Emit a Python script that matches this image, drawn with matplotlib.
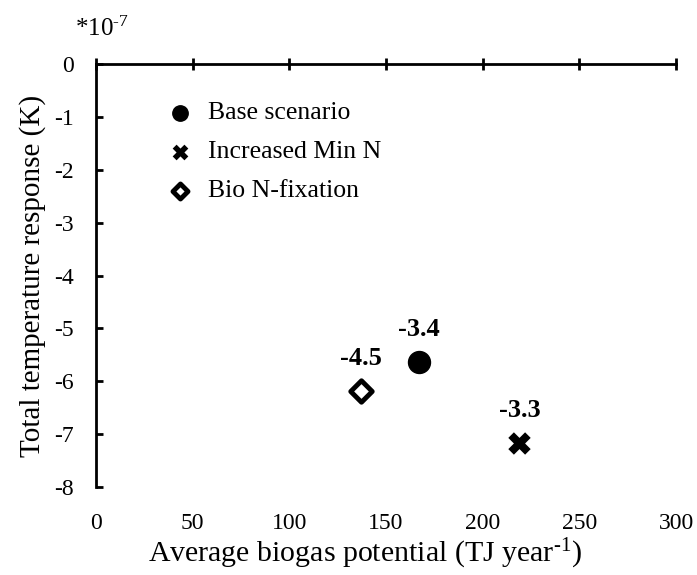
import matplotlib.pyplot as plt

# scenario results (temperature response in units of 1e-7 K)
scenarios = ["Base scenario", "Increased Min N", "Bio N-fixation"]
biogas = [167, 219, 137]
temp_response = [-5.63, -7.17, -6.19]
point_labels = ["-3.4", "-3.3", "-4.5"]

x_ticks = [0, 50, 100, 150, 200, 250, 300]
y_ticks = [0, -1, -2, -3, -4, -5, -6, -7, -8]

plt.rcParams['font.family'] = ['Liberation Serif', 'DejaVu Serif']
plt.rcParams['axes.unicode_minus'] = False
plt.rcParams['mathtext.fontset'] = 'custom'
plt.rcParams['mathtext.rm'] = 'Liberation Serif'
plt.rcParams['mathtext.it'] = 'Liberation Serif:italic'

fig = plt.figure(figsize=(6.97, 5.75), dpi=100)
ax = fig.add_axes([0.1377, 0.153, 0.8323, 0.7357])

styles = [
    dict(marker='o', s=250, color='black'),
    dict(marker='X', s=260, color='black', linewidths=0),
    dict(marker='D', s=120, facecolor='white', edgecolor='black', linewidths=3.5),
]
for name, x, y, lab, st in zip(scenarios, biogas, temp_response, point_labels, styles):
    ax.scatter(x, y, label=name, zorder=3, **st)
    ax.annotate(lab, (x, y), xytext=(0, 15), textcoords='offset points',
                ha='center', va='bottom', fontsize=19, fontweight='bold')

ax.set_xlim(0, 300)
ax.set_ylim(-8, 0)
ax.set_xticks(x_ticks)
ax.set_yticks(y_ticks)

ax.spines['bottom'].set_visible(False)
ax.spines['right'].set_visible(False)
ax.spines['top'].set_linewidth(2)
ax.spines['left'].set_linewidth(2)

ax.tick_params(axis='x', top=True, bottom=False, labeltop=False, labelbottom=True,
               direction='inout', length=9, width=2, labelsize=17, pad=14)
ax.tick_params(axis='y', direction='in', length=5, width=2, labelsize=17, pad=16)

ax.set_xlabel("Average biogas potential (TJ year$^{\\text{-1}}$)", fontsize=21.5)
ax.xaxis.set_label_coords(0.464, -0.118)
ax.set_ylabel("Total temperature response (K)", fontsize=21, labelpad=6)

ax.text(-0.036, 1.055, "*10$^{\\text{-7}}$", transform=ax.transAxes, fontsize=18,
        ha='left', va='bottom')

ax.legend(loc='upper left', bbox_to_anchor=(0.065, 0.96), frameon=False,
          fontsize=18.5, handletextpad=0.1, labelspacing=0.62, borderpad=0.3,
          scatterpoints=1, markerscale=0.7)

plt.savefig("out.png", dpi=100)
